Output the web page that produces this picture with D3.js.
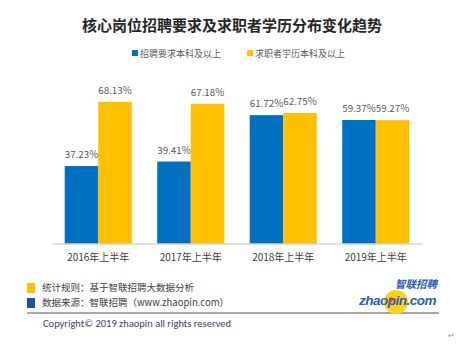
<!DOCTYPE html>
<html>
<head>
<meta charset="utf-8">
<script src="https://cdn.jsdelivr.net/npm/d3@7.9.0/dist/d3.min.js"></script>
<style>
  body { margin: 0; background: #fff; }
  svg { display: block; font-family: "Noto Sans CJK SC", "Microsoft YaHei", sans-serif; }
</style>
</head>
<body>
<svg id="chart" width="469" height="349"></svg>
<script>
// data
const periods = ["2016年上半年", "2017年上半年", "2018年上半年", "2019年上半年"];
const seriesNames = ["招聘要求本科及以上", "求职者学历本科及以上"];
const employerReq = [37.23, 39.41, 61.72, 59.37];
const seekerEdu = [68.13, 67.18, 62.75, 59.27];
const colors = ["#0070c0", "#ffc000"];

const rows = periods.map((p, i) => ({ period: p, values: [employerReq[i], seekerEdu[i]] }));

const svg = d3.select("#chart");
const W = 469, H = 349;
svg.append("rect").attr("width", W).attr("height", H).attr("fill", "#fff");

// title
svg.append("text")
    .attr("x", 232).attr("y", 31)
    .attr("text-anchor", "middle")
    .attr("font-size", 15).attr("font-weight", "bold")
    .attr("fill", "#262626")
    .text("核心岗位招聘要求及求职者学历分布变化趋势");

// legend
const legendX = [132, 247];
seriesNames.forEach((name, i) => {
    const g = svg.append("g").attr("transform", `translate(${legendX[i]},53)`);
    g.append("rect").attr("x", 0).attr("y", -3).attr("width", 6).attr("height", 6).attr("fill", colors[i]);
    g.append("text").attr("x", 8).attr("y", 3.5)
        .attr("font-size", 9).attr("fill", "#595959").text(name);
});

// scales
const plot = { left: 52, right: 422, base: 243.5 };
const x0 = d3.scaleBand().domain(periods)
    .range([plot.left, plot.right])
    .paddingInner(0.275).paddingOuter(0.1375);
const x1 = d3.scaleBand().domain([0, 1]).range([0, x0.bandwidth()]);
const y = d3.scaleLinear().domain([0, 100]).range([plot.base, plot.base - 208]);

// bars
const groups = svg.append("g").selectAll("g")
    .data(rows).enter().append("g")
    .attr("transform", d => `translate(${x0(d.period)},0)`);

groups.selectAll("rect")
    .data(d => d.values.map((v, i) => ({ v, i })))
    .enter().append("rect")
    .attr("x", d => x1(d.i))
    .attr("y", d => y(d.v))
    .attr("width", x1.bandwidth())
    .attr("height", d => y(0) - y(d.v))
    .attr("fill", d => colors[d.i]);

groups.selectAll("text")
    .data(d => d.values.map((v, i) => ({ v, i })))
    .enter().append("text")
    .attr("x", d => x1(d.i) + x1.bandwidth() / 2)
    .attr("y", d => y(d.v) - 8)
    .attr("text-anchor", "middle")
    .attr("font-size", 9.8)
    .attr("fill", "#595959")
    .text(d => d.v.toFixed(2) + "%");

// x axis
const xAxis = svg.append("g")
    .attr("transform", `translate(0,${plot.base})`)
    .call(d3.axisBottom(x0).tickSize(0).tickPadding(10));
xAxis.select(".domain").attr("stroke", "#bfbfbf").attr("stroke-width", 1.2);
xAxis.selectAll("text")
    .attr("font-size", 10)
    .attr("fill", "#404040")
    .attr("font-family", "'Noto Sans CJK SC', sans-serif");

// footer notes
const notes = [
    { color: "#ffc000", text: "统计规则：基于智联招聘大数据分析", y: 288 },
    { color: "#1f4e9c", text: "数据来源：智联招聘（www.zhaopin.com）", y: 303 }
];
notes.forEach(n => {
    svg.append("rect").attr("x", 27).attr("y", n.y - 5).attr("width", 8).attr("height", 10).attr("fill", n.color);
    svg.append("text").attr("x", 42).attr("y", n.y + 3)
        .attr("font-size", 9.5).attr("fill", "#404040").text(n.text);
});

svg.append("line")
    .attr("x1", 27).attr("x2", 439).attr("y1", 313).attr("y2", 313)
    .attr("stroke", "#8c8c8c").attr("stroke-width", 1.5);

svg.append("text")
    .attr("x", 43).attr("y", 327)
    .attr("font-size", 10.5).attr("fill", "#4a3a66")
    .attr("font-family", "Calibri, 'Liberation Sans', 'DejaVu Sans', sans-serif")
    .text("Copyright\u00a9 2019 zhaopin all rights reserved");

// logo
const logo = svg.append("g");
logo.append("circle").attr("cx", 396).attr("cy", 302).attr("r", 12).attr("fill", "#ffd21a");
logo.append("text").attr("x", 437).attr("y", 288).attr("text-anchor", "end")
    .attr("font-size", 10.5).attr("font-weight", "bold").attr("font-style", "italic")
    .attr("fill", "#2a5cb8").text("智联招聘");
logo.append("text").attr("x", 436).attr("y", 304.5).attr("text-anchor", "end")
    .attr("font-size", 13.5).attr("font-weight", "bold").attr("font-style", "italic")
    .attr("font-family", "'Liberation Sans', Arial, sans-serif")
    .attr("fill", "#2a5cb8").attr("letter-spacing", -0.5)
    .text("zhaopin.com");
logo.append("circle").attr("cx", 391).attr("cy", 299.5).attr("r", 2.2).attr("fill", "#e03a2f");

svg.append("text").attr("x", 448).attr("y", 338)
    .attr("font-size", 8).attr("fill", "#999").text("↵");
</script>
</body>
</html>
